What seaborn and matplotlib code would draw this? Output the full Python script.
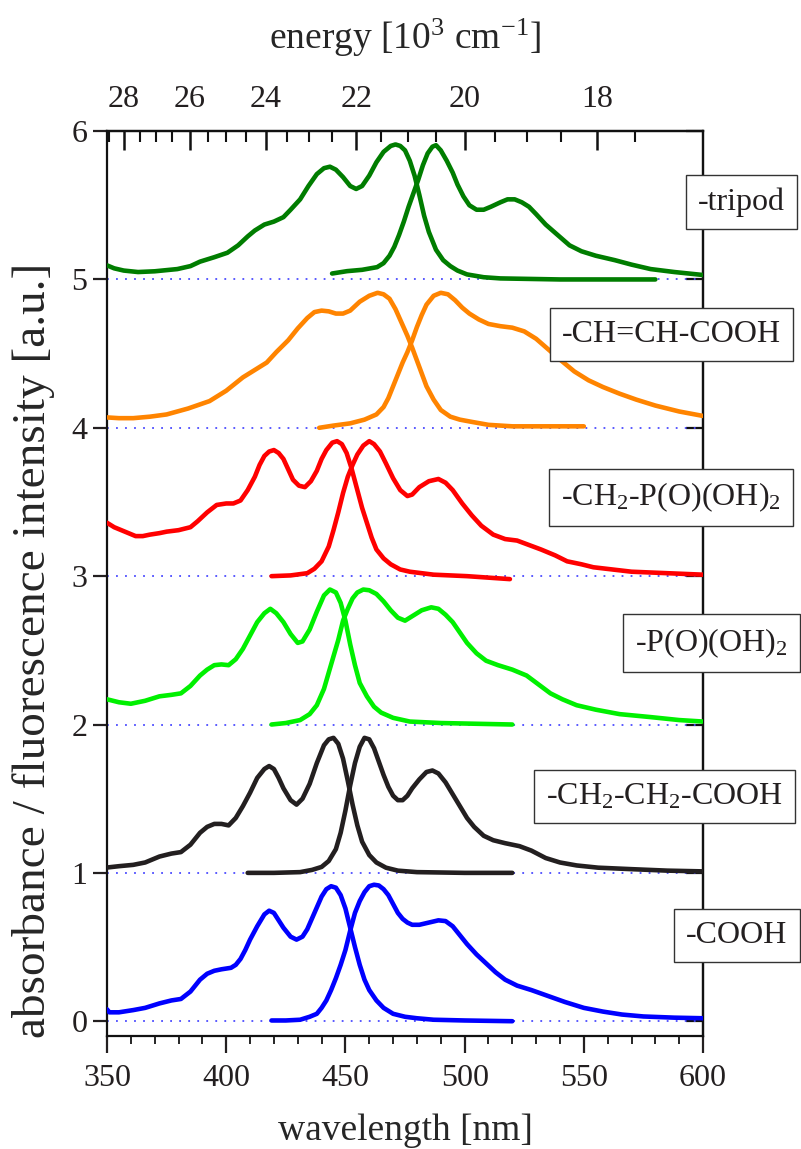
import numpy as np
import pandas as pd
import matplotlib
matplotlib.use("Agg")
import matplotlib.pyplot as plt
import seaborn as sns
from matplotlib.ticker import MultipleLocator

sns.set_style("ticks")
plt.rcParams['font.family'] = ['Liberation Serif', 'DejaVu Serif']
plt.rcParams['mathtext.fontset'] = 'custom'
plt.rcParams['mathtext.rm'] = 'Liberation Serif'
plt.rcParams['mathtext.it'] = 'Liberation Serif:italic'

# values (already shifted by the stacking offset)
cooh_abs_wl = [350, 351, 355, 361, 366, 372, 377, 381, 385, 389, 392, 395, 398, 402, 404, 406, 408, 410, 413, 416, 418, 420, 422, 424, 427, 429.5, 432, 434, 437, 440, 442, 444, 446, 448, 450, 452, 454, 456, 458, 460, 463, 466, 470, 475, 480, 487, 500, 520]
cooh_abs = [0.08, 0.06, 0.06, 0.075, 0.09, 0.12, 0.14, 0.15, 0.2, 0.28, 0.32, 0.34, 0.35, 0.36, 0.38, 0.42, 0.48, 0.55, 0.64, 0.72, 0.745, 0.73, 0.68, 0.63, 0.57, 0.55, 0.57, 0.62, 0.73, 0.84, 0.89, 0.91, 0.90, 0.85, 0.76, 0.63, 0.50, 0.38, 0.28, 0.21, 0.14, 0.09, 0.05, 0.03, 0.02, 0.01, 0.005, 0.0]
cooh_em_wl = [419, 425, 431, 435, 438, 440, 442, 444, 446, 448, 450, 452, 454, 456, 458, 460, 462, 464, 466, 468, 470, 472, 474, 476, 478, 481, 485, 489, 492, 495, 498, 501, 505, 509, 513, 517, 522, 528, 535, 542, 550, 558, 566, 575, 588, 600]
cooh_em = [0.005, 0.005, 0.01, 0.03, 0.05, 0.09, 0.14, 0.21, 0.29, 0.38, 0.48, 0.61, 0.73, 0.81, 0.87, 0.91, 0.92, 0.915, 0.89, 0.85, 0.79, 0.73, 0.69, 0.665, 0.65, 0.65, 0.665, 0.68, 0.675, 0.64, 0.58, 0.52, 0.45, 0.39, 0.33, 0.28, 0.24, 0.21, 0.17, 0.13, 0.09, 0.065, 0.045, 0.032, 0.024, 0.02]

ch2ch2_abs_wl = [350, 355, 361, 366, 372, 377, 381, 385, 389, 392, 395, 398, 401, 404, 407, 410, 413, 416, 418, 420, 422, 424, 427, 429.5, 432, 435, 438, 441, 443, 445, 447, 449, 451, 453, 455, 457, 460, 463, 467, 472, 480, 500, 520]
ch2ch2_abs = [1.036, 1.045, 1.054, 1.07, 1.11, 1.13, 1.14, 1.19, 1.27, 1.31, 1.33, 1.33, 1.32, 1.37, 1.45, 1.54, 1.64, 1.70, 1.72, 1.70, 1.64, 1.57, 1.49, 1.46, 1.50, 1.60, 1.74, 1.86, 1.90, 1.91, 1.87, 1.77, 1.62, 1.46, 1.32, 1.21, 1.12, 1.07, 1.035, 1.015, 1.005, 1.0, 1.0]
ch2ch2_em_wl = [409, 420, 431, 436, 440, 443, 446, 448, 450, 452, 454, 456, 458, 460, 462, 464, 466, 468, 470, 472, 474, 476, 478, 481, 484, 486.5, 489, 492, 495, 498, 501, 504, 508, 512, 517, 523, 528, 534, 540, 547, 556, 570, 585, 600]
ch2ch2_em = [1.0, 1.0, 1.005, 1.02, 1.04, 1.08, 1.16, 1.27, 1.42, 1.59, 1.74, 1.85, 1.91, 1.90, 1.84, 1.75, 1.66, 1.58, 1.52, 1.49, 1.49, 1.52, 1.57, 1.63, 1.68, 1.69, 1.67, 1.61, 1.53, 1.45, 1.37, 1.31, 1.25, 1.22, 1.20, 1.18, 1.15, 1.10, 1.07, 1.05, 1.035, 1.025, 1.015, 1.01]

po_abs_wl = [350, 355, 360, 366, 372, 377, 381, 385, 389, 392, 395, 398, 401, 404, 407, 410, 413, 416, 418.5, 421, 424, 427, 430, 432, 435, 438, 441, 443.5, 446, 448, 450, 452, 454, 456, 459, 462, 465, 470, 477, 490, 505, 520]
po_abs = [2.17, 2.15, 2.14, 2.16, 2.19, 2.20, 2.21, 2.26, 2.33, 2.37, 2.40, 2.405, 2.40, 2.44, 2.51, 2.60, 2.69, 2.75, 2.78, 2.75, 2.69, 2.61, 2.55, 2.56, 2.64, 2.76, 2.87, 2.91, 2.89, 2.82, 2.70, 2.54, 2.40, 2.28, 2.19, 2.12, 2.08, 2.045, 2.02, 2.01, 2.005, 2.0]
po_em_wl = [419, 425, 431, 435, 438, 441, 443, 445, 447, 449, 451, 453, 455, 457.5, 460, 463, 466, 469, 472, 475, 478, 482, 486, 489, 492, 495, 498, 501, 505, 509, 514, 520, 526, 531, 536, 541, 547, 555, 565, 578, 590, 600]
po_em = [2.0, 2.01, 2.03, 2.07, 2.13, 2.24, 2.35, 2.46, 2.57, 2.70, 2.78, 2.85, 2.89, 2.91, 2.905, 2.88, 2.83, 2.77, 2.72, 2.70, 2.73, 2.77, 2.79, 2.78, 2.74, 2.69, 2.62, 2.55, 2.48, 2.43, 2.40, 2.37, 2.33, 2.27, 2.21, 2.17, 2.13, 2.10, 2.07, 2.05, 2.03, 2.02]

ch2po_abs_wl = [350, 353, 356, 359, 362, 365, 368, 372, 375, 380, 385, 388, 392, 396, 400, 403, 406, 409, 412, 414, 416, 418, 420, 422, 424, 426, 428, 430.5, 433, 435.5, 438, 440, 442, 444.5, 446.5, 448.5, 450.5, 452.5, 455, 457, 459, 461, 463, 466, 469, 473, 477, 487, 501, 510, 519]
ch2po_abs = [3.36, 3.33, 3.31, 3.29, 3.27, 3.27, 3.28, 3.29, 3.30, 3.31, 3.33, 3.37, 3.43, 3.48, 3.49, 3.49, 3.51, 3.58, 3.67, 3.75, 3.81, 3.84, 3.85, 3.83, 3.79, 3.72, 3.65, 3.61, 3.60, 3.64, 3.71, 3.79, 3.85, 3.90, 3.91, 3.89, 3.83, 3.73, 3.58, 3.46, 3.36, 3.26, 3.18, 3.12, 3.08, 3.045, 3.03, 3.01, 3.0, 2.99, 2.98]
ch2po_em_wl = [419, 427, 434, 437, 440, 443, 445, 447, 449, 451, 453, 455, 457.5, 460, 462, 464.5, 467, 470, 473, 476, 478, 481, 485, 489, 492, 495, 499, 503, 507, 512, 517, 522, 527, 532, 538, 543, 549, 554, 562, 570, 585, 600]
ch2po_em = [3.0, 3.005, 3.02, 3.05, 3.10, 3.20, 3.31, 3.43, 3.56, 3.67, 3.75, 3.82, 3.88, 3.91, 3.89, 3.84, 3.76, 3.66, 3.58, 3.54, 3.55, 3.60, 3.64, 3.655, 3.63, 3.58, 3.49, 3.41, 3.34, 3.28, 3.25, 3.24, 3.21, 3.18, 3.14, 3.10, 3.08, 3.06, 3.045, 3.03, 3.02, 3.01]

chch_abs_wl = [350, 355, 361, 368, 375, 384, 393, 400, 407, 412, 417, 421, 426, 430, 434, 437, 440, 443, 446, 449, 452, 456, 460, 463.5, 466, 468.5, 471, 473.5, 476, 478, 481, 484, 487, 490, 494, 498, 503, 510, 520, 550]
chch_abs = [4.07, 4.065, 4.065, 4.075, 4.09, 4.13, 4.18, 4.25, 4.34, 4.39, 4.44, 4.51, 4.59, 4.67, 4.74, 4.78, 4.79, 4.785, 4.77, 4.77, 4.79, 4.85, 4.89, 4.91, 4.90, 4.87, 4.80, 4.71, 4.62, 4.54, 4.41, 4.28, 4.19, 4.12, 4.075, 4.055, 4.04, 4.02, 4.01, 4.01]
chch_em_wl = [439, 445, 452, 458, 463, 466, 468, 470, 472, 474, 476, 478, 480, 482, 484, 487, 490, 493, 496, 499, 502, 506, 510, 515, 520, 525, 530, 535, 540, 546, 552, 558, 565, 572, 580, 590, 600]
chch_em = [4.0, 4.015, 4.03, 4.055, 4.09, 4.14, 4.20, 4.28, 4.36, 4.44, 4.51, 4.59, 4.68, 4.76, 4.83, 4.89, 4.91, 4.90, 4.86, 4.81, 4.77, 4.73, 4.70, 4.685, 4.675, 4.65, 4.60, 4.53, 4.46, 4.38, 4.32, 4.275, 4.23, 4.19, 4.15, 4.11, 4.08]

tripod_abs_wl = [350, 353, 357, 363, 370, 379.5, 385, 389, 395, 400.5, 405, 409, 412, 416, 420, 424, 427, 431, 434.5, 438, 441, 443.5, 446, 449, 452, 454.5, 457, 460, 463, 466, 469, 471, 473, 475, 477, 479, 481, 483, 485, 488, 491, 494, 497, 501, 508, 515, 540, 580]
tripod_abs = [5.095, 5.075, 5.06, 5.05, 5.055, 5.07, 5.09, 5.12, 5.15, 5.18, 5.23, 5.29, 5.33, 5.37, 5.39, 5.42, 5.47, 5.54, 5.63, 5.71, 5.75, 5.76, 5.74, 5.69, 5.63, 5.61, 5.63, 5.70, 5.79, 5.86, 5.90, 5.91, 5.90, 5.87, 5.80, 5.70, 5.57, 5.43, 5.32, 5.20, 5.13, 5.09, 5.06, 5.034, 5.015, 5.007, 5.0, 5.0]
tripod_em_wl = [444.4, 450.7, 457, 463.3, 466, 468.5, 470.5, 472.5, 474.5, 476.5, 478.5, 480.5, 482.5, 484.5, 486.5, 488, 490, 492.5, 495, 497, 499.5, 502, 505, 508, 511, 515, 518, 521, 524, 527, 530, 534, 539, 544, 549, 555, 563, 570, 578, 588, 600]
tripod_em = [5.04, 5.056, 5.065, 5.083, 5.11, 5.16, 5.22, 5.30, 5.39, 5.49, 5.58, 5.67, 5.77, 5.85, 5.895, 5.905, 5.87, 5.80, 5.72, 5.64, 5.56, 5.50, 5.47, 5.47, 5.49, 5.52, 5.54, 5.54, 5.52, 5.49, 5.44, 5.37, 5.30, 5.23, 5.19, 5.16, 5.13, 5.10, 5.07, 5.05, 5.03]

names = ['-COOH', '-CH$_2$-CH$_2$-COOH', '-P(O)(OH)$_2$', '-CH$_2$-P(O)(OH)$_2$', '-CH=CH-COOH', '-tripod']
offsets = [0, 1, 2, 3, 4, 5]
colors = ['#0000ff', '#231f20', '#00f000', '#ff0000', '#ff8400', '#007d00']
spectra = [
    (cooh_abs_wl, cooh_abs, cooh_em_wl, cooh_em),
    (ch2ch2_abs_wl, ch2ch2_abs, ch2ch2_em_wl, ch2ch2_em),
    (po_abs_wl, po_abs, po_em_wl, po_em),
    (ch2po_abs_wl, ch2po_abs, ch2po_em_wl, ch2po_em),
    (chch_abs_wl, chch_abs, chch_em_wl, chch_em),
    (tripod_abs_wl, tripod_abs, tripod_em_wl, tripod_em),
]
# label boxes: left x (nm) and centre y
label_x = [593, 534, 571.5, 540.4, 540.9, 597.9]
label_y = [0.58, 1.515, 2.55, 3.53, 4.63, 5.52]

# top axis: energy in 10^3 cm^-1
energy_ticks = [28, 26, 24, 22, 20, 18]
energy_minor = np.arange(17.5, 28.6, 0.5)

fig = plt.figure(figsize=(8.01, 11.49), dpi=100)
ax = fig.add_axes([0.1336, 0.0983, 0.7441, 0.7876])

for off in offsets:
    ax.axhline(off, color='#4b4bff', lw=1.3, ls=(0, (1, 4)), zorder=1)

for (awl, a, ewl, e), c in zip(spectra, colors):
    sns.lineplot(x=awl, y=a, color=c, lw=3.3, sort=False, estimator=None, ax=ax, zorder=3)
    sns.lineplot(x=ewl, y=e, color=c, lw=3.3, sort=False, estimator=None, ax=ax, zorder=3)

for name, lx, ly in zip(names, label_x, label_y):
    ax.text(lx, ly, name, fontsize=23, ha='left', va='center', color='#231f20', zorder=5, clip_on=False,
            bbox=dict(boxstyle='square,pad=0.38', fc='white', ec='#333333', lw=1.0))

ax.set_xlim(350, 600)
ax.set_ylim(-0.1, 6)
ax.set_xlabel('wavelength [nm]', fontsize=27, labelpad=15)
ax.set_ylabel('absorbance / fluorescence intensity [a.u.]', fontsize=34)
ax.yaxis.set_label_coords(-0.088, 0.4265)
ax.xaxis.set_major_locator(MultipleLocator(50))
ax.xaxis.set_minor_locator(MultipleLocator(10))
ax.yaxis.set_major_locator(MultipleLocator(1))
ax.tick_params(axis='x', which='major', direction='out', length=12, width=1.6, labelsize=23, pad=8, colors='#231f20')
ax.tick_params(axis='x', which='minor', direction='out', length=6, width=1.4)
ax.tick_params(axis='y', which='major', direction='out', length=10, width=1.6, labelsize=23, pad=4, colors='#231f20')
for s in ax.spines.values():
    s.set_linewidth(1.6)
    s.set_color('#111111')

right = ax.secondary_yaxis('right')
right.set_yticks(offsets + [6])
right.tick_params(which='major', right=True, left=False, direction='in', length=12, width=1.6,
                  labelright=False, color='#111111')
right.spines['right'].set_linewidth(1.6)

# energy scale on top, ticks placed at the matching wavelengths
top = ax.secondary_xaxis('top')
top.set_xticks(1e4 / np.array(energy_ticks, float))
top.set_xticklabels([str(e) for e in energy_ticks])
top.set_xticks(1e4 / energy_minor, minor=True)
top.tick_params(which='major', top=True, bottom=False, direction='in', length=14, width=1.8,
                labelsize=23, pad=12, color='#111111', labelcolor='#231f20')
top.tick_params(which='minor', top=True, bottom=False, direction='in', length=8, width=1.5, color='#111111')
top.set_xlabel('energy [10$^3$ cm$^{\\mathregular{-1}}$]', fontsize=27, labelpad=26)
top.spines['top'].set_linewidth(1.6)
top.spines['top'].set_color('#111111')

fig.savefig('out.png', dpi=100)
